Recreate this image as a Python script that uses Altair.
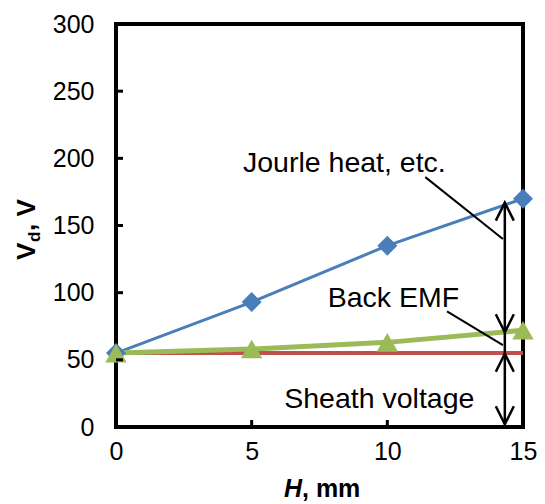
import altair as alt
import pandas as pd

# ---- data ----
h_mm = [0, 5, 10, 15]
vd_total = [55, 93, 135, 170]      # blue diamonds
vd_emf = [55, 58, 63, 72]          # green triangles
sheath_x = [0, 15]
sheath_v = [55, 55]                # red line

x_ticks = [0, 5, 10, 15]
y_ticks = [0, 50, 100, 150, 200, 250, 300]

ann_text = ["Jourle heat, etc.", "Back EMF", "Sheath voltage"]
ann_x = [4.68, 7.8, 6.2]
ann_y = [190, 89, 14]

leader_x = [11.4, 12.2]
leader_y = [186, 86]
leader_x2 = [14.26, 14.26]
leader_y2 = [140, 61]

arrow_x = 14.33
arrow_bottom = 2
arrow_top = 167
head_up_y = [167, 54.5]
head_down_y = [70.5, 2]

W, H = 407, 403
FONT = "Liberation Sans"

blue = "#4A7EBB"
green = "#9BBB59"
red = "#C0504D"

xs = alt.Scale(domain=[0, 15], nice=False, zero=False)
ys = alt.Scale(domain=[0, 300], nice=False)

xax = alt.Axis(values=x_ticks, title=None, labelFontSize=25, labelPadding=12, labelFlush=False,
               labelColor="black", labelFont=FONT, ticks=False, domain=False, grid=False)
yax = alt.Axis(values=y_ticks, title=None, labelFontSize=25, labelPadding=22, labelFlush=False,
               labelColor="black", labelFont=FONT, ticks=False, domain=False, grid=False)

df = pd.DataFrame({"h": h_mm, "total": vd_total, "emf": vd_emf})
df_red = pd.DataFrame({"h": sheath_x, "v": sheath_v})

base = alt.Chart(df)

blue_line = base.mark_line(color=blue, strokeWidth=3).encode(
    x=alt.X("h:Q", scale=xs, axis=xax), y=alt.Y("total:Q", scale=ys, axis=yax))
red_line = alt.Chart(df_red).mark_line(color=red, strokeWidth=4).encode(
    x=alt.X("h:Q", scale=xs), y=alt.Y("v:Q", scale=ys))
green_line = base.mark_line(color=green, strokeWidth=5).encode(
    x=alt.X("h:Q", scale=xs), y=alt.Y("emf:Q", scale=ys))
blue_pts = base.mark_point(shape="diamond", filled=True, color=blue, size=400, opacity=1).encode(
    x=alt.X("h:Q", scale=xs), y=alt.Y("total:Q", scale=ys))
green_pts = base.mark_point(shape="triangle-up", filled=True, color=green, size=460, opacity=1).encode(
    x=alt.X("h:Q", scale=xs), y=alt.Y("emf:Q", scale=ys))

# inward tick marks
ytk = pd.DataFrame({"v": y_ticks[1:-1]})
ytick_rules = alt.Chart(ytk).mark_rule(color="black", strokeWidth=3).encode(
    y=alt.Y("v:Q", scale=ys), x=alt.value(0), x2=alt.value(7))
xtk = pd.DataFrame({"v": x_ticks[1:-1]})
xtick_rules = alt.Chart(xtk).mark_rule(color="black", strokeWidth=3).encode(
    x=alt.X("v:Q", scale=xs), y=alt.value(H), y2=alt.value(H - 7))

# annotations
ann = pd.DataFrame({"t": ann_text, "x": ann_x, "y": ann_y})
ann_marks = alt.Chart(ann).mark_text(align="left", baseline="alphabetic", fontSize=28.5,
                                     font=FONT, color="black").encode(
    x=alt.X("x:Q", scale=xs), y=alt.Y("y:Q", scale=ys), text="t:N")

ld = pd.DataFrame({"x": leader_x, "y": leader_y, "x2": leader_x2, "y2": leader_y2})
leaders = alt.Chart(ld).mark_rule(color="black", strokeWidth=2).encode(
    x=alt.X("x:Q", scale=xs), y=alt.Y("y:Q", scale=ys), x2="x2:Q", y2="y2:Q")

shaft_df = pd.DataFrame({"x": [arrow_x], "y": [arrow_bottom], "y2": [arrow_top]})
shaft = alt.Chart(shaft_df).mark_rule(color="black", strokeWidth=2.5).encode(
    x=alt.X("x:Q", scale=xs), y=alt.Y("y:Q", scale=ys), y2="y2:Q")

up_df = pd.DataFrame({"x": [arrow_x] * len(head_up_y), "y": head_up_y})
down_df = pd.DataFrame({"x": [arrow_x] * len(head_down_y), "y": head_down_y})
heads_up = alt.Chart(up_df).mark_point(shape="M -0.5 1 L 0 0 L 0.5 1", filled=False,
                                       color="black", strokeWidth=2.5, size=1296, opacity=1).encode(
    x=alt.X("x:Q", scale=xs), y=alt.Y("y:Q", scale=ys))
heads_down = alt.Chart(down_df).mark_point(shape="M -0.5 -1 L 0 0 L 0.5 -1", filled=False,
                                           color="black", strokeWidth=2.5, size=1296, opacity=1).encode(
    x=alt.X("x:Q", scale=xs), y=alt.Y("y:Q", scale=ys))

# axis titles (with subscript / italic)
t1 = pd.DataFrame({"t": ["H"]})
xt_h = alt.Chart(t1).mark_text(align="right", baseline="alphabetic", fontSize=25, fontWeight="bold",
                               fontStyle="italic", font=FONT, color="black").encode(
    text="t:N", x=alt.value(186), y=alt.value(473))
t2 = pd.DataFrame({"t": [", mm"]})
xt_mm = alt.Chart(t2).mark_text(align="left", baseline="alphabetic", fontSize=25, fontWeight="bold",
                                font=FONT, color="black").encode(
    text="t:N", x=alt.value(186), y=alt.value(473))
t3 = pd.DataFrame({"t": ["V"]})
yt_v = alt.Chart(t3).mark_text(align="left", baseline="alphabetic", angle=270, fontSize=26,
                               fontWeight="bold", font=FONT, color="black").encode(
    text="t:N", x=alt.value(-81), y=alt.value(236))
t4 = pd.DataFrame({"t": ["d"]})
yt_d = alt.Chart(t4).mark_text(align="left", baseline="alphabetic", angle=270, fontSize=17,
                               fontWeight="bold", font=FONT, color="black").encode(
    text="t:N", x=alt.value(-76), y=alt.value(218))
t5 = pd.DataFrame({"t": [", V"]})
yt_rest = alt.Chart(t5).mark_text(align="left", baseline="alphabetic", angle=270, fontSize=26,
                                  fontWeight="bold", font=FONT, color="black").encode(
    text="t:N", x=alt.value(-81), y=alt.value(207))

chart = alt.layer(
    blue_line, red_line, green_line, blue_pts, green_pts,
    ytick_rules, xtick_rules, leaders, shaft, heads_up, heads_down, ann_marks,
    xt_h, xt_mm, yt_v, yt_d, yt_rest
).properties(
    width=W, height=H,
    background="white",
    autosize=alt.AutoSizeParams(type="none"),
    padding={"left": 116, "top": 24, "right": 22, "bottom": 77},
).configure_view(
    stroke="black", strokeWidth=4
)

chart.save("out.html", embed_options={"renderer": "svg", "actions": False})
